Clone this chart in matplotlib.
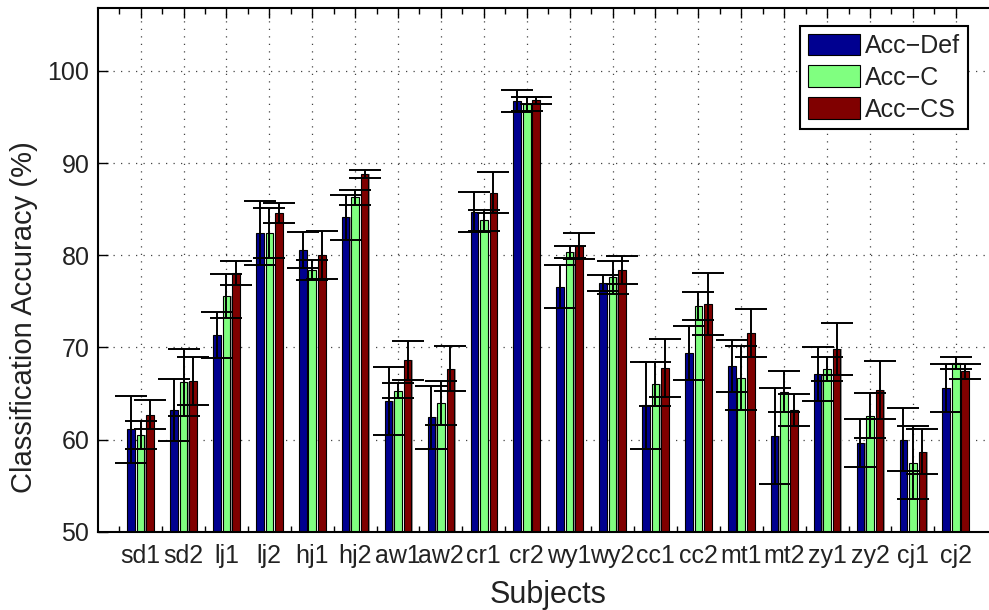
import numpy as np
import matplotlib
matplotlib.use("Agg")
import matplotlib.pyplot as plt

plt.rcParams['font.family'] = ['Liberation Sans', 'DejaVu Sans']

subjects = ['sd1', 'sd2', 'lj1', 'lj2', 'hj1', 'hj2', 'aw1', 'aw2', 'cr1', 'cr2',
            'wy1', 'wy2', 'cc1', 'cc2', 'mt1', 'mt2', 'zy1', 'zy2', 'cj1', 'cj2']

acc_def = [61.1, 63.2, 71.3, 82.4, 80.6, 84.1, 64.2, 62.4, 84.7, 96.7,
           76.6, 77.0, 63.7, 69.4, 68.0, 60.4, 67.1, 59.6, 60.0, 65.6]
err_def = [3.6, 3.4, 2.5, 3.5, 1.95, 2.4, 3.7, 3.4, 2.2, 1.2,
           2.35, 0.85, 4.7, 2.95, 2.8, 5.2, 2.95, 2.6, 3.4, 2.6]

acc_c = [60.5, 66.2, 75.6, 82.4, 78.4, 86.3, 65.3, 64.0, 83.8, 96.4,
         80.4, 77.6, 66.0, 74.5, 66.7, 65.2, 67.7, 62.6, 57.5, 68.3]
err_c = [1.5, 3.65, 2.4, 2.7, 1.1, 0.8, 0.8, 2.4, 1.15, 0.8,
         0.65, 1.8, 2.4, 1.55, 3.45, 2.25, 1.3, 2.4, 4.0, 0.65]

acc_cs = [62.7, 66.4, 78.1, 84.6, 80.0, 88.8, 68.6, 67.7, 86.8, 96.8,
          81.0, 78.4, 67.8, 74.7, 71.6, 63.2, 69.8, 65.4, 58.7, 67.4]
err_cs = [1.6, 2.6, 1.3, 1.1, 2.6, 0.4, 2.1, 2.45, 2.25, 0.4,
          1.4, 1.5, 3.15, 3.35, 2.6, 1.7, 2.8, 3.15, 2.4, 0.8]

series = [('Acc\u2212Def', acc_def, err_def, '#000090'),
          ('Acc\u2212C', acc_c, err_c, '#80FF80'),
          ('Acc\u2212CS', acc_cs, err_cs, '#800000')]

txt = '#222222'
fig = plt.figure(figsize=(9.89, 6.10), dpi=100)
# axes runs past the right edge, as in the cropped original
ax = fig.add_axes([0.0988, 0.1284, 0.911, 0.858])

x = np.arange(1, len(subjects) + 1)
pitch = 0.222
w = 0.178
for i, (name, vals, errs, col) in enumerate(series):
    xs = x + (i - 1) * pitch
    # faint grey shadow on the right side of each bar
    ax.bar(xs + 0.03, vals, w, color='#999999', linewidth=0, zorder=1.9)
    ax.bar(xs, vals, w, color=col, edgecolor='black', linewidth=0.8,
           label=name, zorder=2)
    ax.errorbar(xs, vals, yerr=errs, fmt='none', ecolor='black',
                elinewidth=1.4, capsize=11.5, capthick=1.4, zorder=3)

ax.set_xlim(0, 21)
ax.set_ylim(50, 106.8)
ax.set_xticks(x)
ax.set_xticklabels(subjects, fontsize=18, color=txt)
ax.set_xticks(x - 0.5, minor=True)
ax.set_yticks(np.arange(50, 101, 10))
ax.tick_params(axis='y', labelsize=18, labelcolor=txt, pad=6)
ax.tick_params(which='major', direction='in', top=True, right=True, length=7, width=1)
ax.tick_params(which='minor', direction='in', top=True, bottom=True, length=4, width=1)
ax.tick_params(axis='x', which='major', pad=9)
ax.grid(True, which='major', linestyle=(0, (1, 5)), color='#444444', linewidth=0.9, zorder=0)
ax.set_axisbelow(True)
for s in ax.spines.values():
    s.set_linewidth(1.5)

ax.set_xlabel('Subjects', fontsize=22, color=txt)
ax.set_ylabel('Classification Accuracy (%)', fontsize=21, color=txt)
# label positions
ax.xaxis.set_label_coords(0.5, -0.092)
ax.yaxis.set_label_coords(-0.066, 0.41)

handles, names = ax.get_legend_handles_labels()
leg = ax.legend(handles[:3], names[:3], loc='upper right',
                bbox_to_anchor=(968 / 989, 1 - 26 / 610),
                bbox_transform=fig.transFigure, borderaxespad=0, fontsize=18,
                frameon=True, fancybox=False, edgecolor='black', framealpha=1,
                handlelength=2.1, handleheight=0.95, labelspacing=0.3,
                handletextpad=0.2, borderpad=0.3)
leg.get_frame().set_linewidth(1.5)
for t in leg.get_texts():
    t.set_color(txt)

fig.savefig('out.png', dpi=100)
